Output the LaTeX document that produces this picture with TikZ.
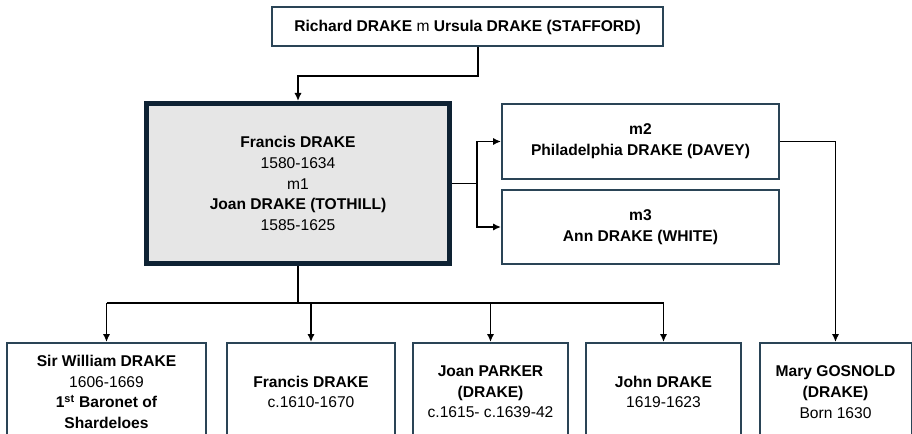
\documentclass[tikz,border=0pt]{standalone}
\usepackage{fontspec}
\setmainfont{Liberation Sans}
\usetikzlibrary{arrows.meta}
\definecolor{boxline}{HTML}{2A4456}
\definecolor{mainline}{HTML}{0E2233}
\definecolor{mainfill}{HTML}{E6E6E6}
\tikzset{
  person/.style={draw=boxline, line width=1.5pt, fill=white, align=center, inner sep=0pt,
    font=\fontsize{11.7}{15.5}\selectfont},
  mainbox/.style={person, draw=mainline, line width=3.8pt, fill=mainfill},
  conn/.style={draw=black, line width=1.2pt},
  arr/.style={conn, -{Latex[length=6pt,width=5.5pt]}}
}
\begin{document}
\begin{tikzpicture}[x=0.75pt,y=-0.75pt]
\useasboundingbox (0,0) rectangle (912,434);
\clip (0,0) rectangle (912,434);
\fill[white] (0,0) rectangle (912,434);

\node[person, minimum width=391*0.75pt, minimum height=39*0.75pt] (top) at (467.5,27)
  {\textbf{Richard DRAKE} m \textbf{Ursula DRAKE (STAFFORD)}};

\node[mainbox, minimum width=303*0.75pt, minimum height=160*0.75pt] (fr) at (298,183.5)
  {\textbf{Francis DRAKE}\\1580-1634\\m1\\\textbf{Joan DRAKE (TOTHILL)}\\1585-1625};

\node[person, minimum width=277*0.75pt, minimum height=75*0.75pt] (m2) at (640.5,141.5)
  {\textbf{m2}\\\textbf{Philadelphia DRAKE (DAVEY)}};
\node[person, minimum width=277*0.75pt, minimum height=74*0.75pt] (m3) at (640.5,227)
  {\textbf{m3}\\\textbf{Ann DRAKE (WHITE)}};

\node[person, minimum width=199*0.75pt, minimum height=98*0.75pt] (c1) at (106.5,392)
  {\textbf{Sir William DRAKE}\\1606-1669\\\textbf{1\textsuperscript{st} Baronet of}\\\textbf{Shardeloes}};
\node[person, minimum width=168*0.75pt, minimum height=98*0.75pt] (c2) at (311,392)
  {\textbf{Francis DRAKE}\\c.1610-1670};
\node[person, minimum width=155*0.75pt, minimum height=98*0.75pt] (c3) at (490.5,392)
  {\textbf{Joan PARKER}\\\textbf{(DRAKE)}\\c.1615- c.1639-42};
\node[person, minimum width=155*0.75pt, minimum height=98*0.75pt] (c4) at (663.5,392)
  {\textbf{John DRAKE}\\1619-1623};
\node[person, minimum width=152*0.75pt, minimum height=98*0.75pt] (c5) at (835.5,392)
  {\textbf{Mary GOSNOLD}\\\textbf{(DRAKE)}\\Born 1630};

% parents to Francis
\coordinate (tj) at (478,76);
\draw[arr] (top.south -| tj) -- (tj) -| (fr.north);

% Francis to later marriages
\coordinate (rj) at (477,183.5);
\draw[conn] (fr.east) -- (rj);
\draw[arr] (rj) |- (m2.west);
\draw[arr] (rj) |- (m3.west);

% m2 to Mary
\draw[arr] (m2.east) -| (c5.north);

% Francis to children
\coordinate (bj) at (298,303);
\draw[conn] (fr.south) -- (bj);
\draw[conn] (c1.north |- bj) -- (c4.north |- bj);
\draw[arr] (c1.north |- bj) -- (c1.north);
\draw[arr] (c2.north |- bj) -- (c2.north);
\draw[arr] (c3.north |- bj) -- (c3.north);
\draw[arr] (c4.north |- bj) -- (c4.north);
\end{tikzpicture}
\end{document}
